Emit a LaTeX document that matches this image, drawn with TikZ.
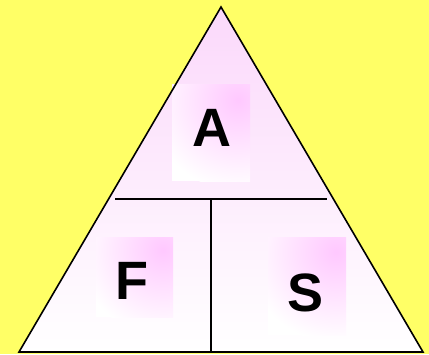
\documentclass[tikz,border=0pt]{standalone}
\usepackage{fontspec}
\setmainfont{Liberation Sans}
\definecolor{bgyellow}{HTML}{FFFF66}
\definecolor{trpink}{HTML}{FBD8FB}
\definecolor{boxpink}{HTML}{FFC8FF}
\tikzset{
  edge/.style={line width=1.6pt, black},
  letter/.style={font=\fontsize{54}{54}\selectfont\bfseries, inner sep=0pt},
  x=1pt, y=-1pt
}
\begin{document}
\begin{tikzpicture}
\fill[bgyellow] (0,0) rectangle (429,354);
\useasboundingbox (0,0) rectangle (429,354);
\coordinate (apex) at (221,7);
\coordinate (bl) at (19,352);
\coordinate (br) at (423,352);
\coordinate (hl) at (115,199);
\coordinate (hr) at (327,199);
\coordinate (vt) at (211,199);
\coordinate (vb) at (211,352);
% triangle fill
\begin{scope}
\clip (apex) -- (bl) -- (br) -- cycle;
\shade[top color=trpink, bottom color=white] (0,7) rectangle (429,352);
\end{scope}
% boxes
\begin{scope}
\clip (172,84) rectangle (250,181);
\fill[white] (172,84) rectangle (250,181);
\shade[inner color=boxpink, outer color=white] (238,100) circle (90);
\end{scope}
\begin{scope}
\clip (96,237) rectangle (173,317);
\fill[white] (96,237) rectangle (173,317);
\shade[inner color=boxpink, outer color=white] (163,250) circle (85);
\end{scope}
\begin{scope}
\clip (268,237) rectangle (346,335);
\fill[white] (268,237) rectangle (346,335);
\shade[inner color=boxpink, outer color=white] (336,252) circle (90);
\end{scope}
% outlines
\draw[edge, line join=miter] (apex) -- (bl) -- (br) -- cycle;
\draw[edge] (hl) -- (hr);
\draw[edge] (vt) -- (vb);
% letters
\node[letter] (A) at (212,128) {A};
\node[letter] (F) at (132,281) {F};
\node[letter] (S) at (306,293) {S};
\end{tikzpicture}
\end{document}
